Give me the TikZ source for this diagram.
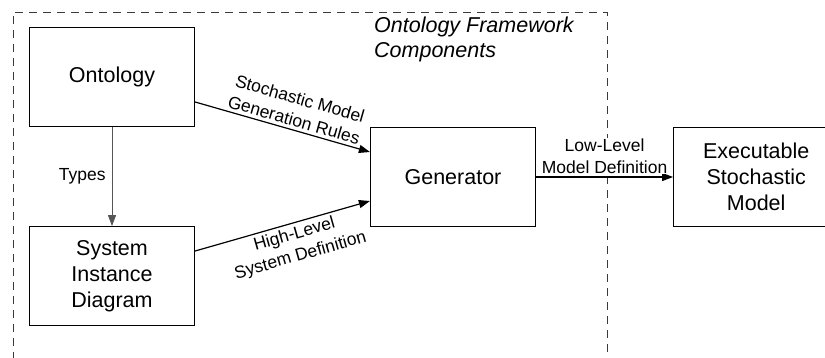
\documentclass[tikz,border=0pt]{standalone}
\usepackage{fontspec}
\setmainfont{Liberation Sans}
\usepackage{tikz}
\usetikzlibrary{positioning, arrows.meta}
\pgfdeclarelayer{background}
\pgfsetlayers{background,main}
\definecolor{framegray}{HTML}{3A3A3A}
\definecolor{linkgray}{HTML}{555555}
\tikzstyle{block}    = [rectangle, draw=black, line width=1.2pt, minimum width=165pt, minimum height=99pt, align=center, font=\fontsize{21.5}{26}\selectfont]
\tikzstyle{arrow}    = [line width=1.2pt, -{Triangle[length=11pt,width=8pt]}]
\tikzstyle{lbl}      = [align=center, font=\fontsize{17.5}{22}\selectfont, inner sep=3pt]
\tikzstyle{dashbox}  = [draw=framegray, line width=1pt, dash pattern=on 8pt off 6pt]

\begin{document}
\begin{tikzpicture}[x=1pt, y=-1pt]
    \useasboundingbox (0,0) rectangle (825,357);

    \node (ontology)  [block] at (112,77) {Ontology};
    \node (system)    [block, below=99pt of ontology] {System\\Instance\\Diagram};
    \node (generator) [block] at (453,177) {Generator};
    \node (exec)      [block, right=137pt of generator] {Executable\\Stochastic\\Model};

    \node (title) [anchor=north west, align=left, inner sep=0pt,
                   font=\fontsize{21.5}{25}\selectfont\itshape] at (374,17)
        {Ontology Framework\\Components};

    \draw [arrow, draw=linkgray, line width=0.9pt] (ontology) -- node [lbl, left, inner sep=6pt] {Types} (system);
    \draw [arrow] (ontology.east |- 0,102) -- node [lbl, sloped, above, pos=0.55] {Stochastic Model\\Generation Rules} (generator.west |- 0,152);
    \draw [arrow] (system.east |- 0,251) -- node [lbl, sloped, below, pos=0.55] {High-Level\\System Definition} (generator.west |- 0,201);
    \draw [arrow] (generator) -- node [lbl, above, fill=white, inner sep=1pt, yshift=2pt] {Low-Level\\Model Definition} (exec);

    % framework boundary, open at the bottom
    \begin{pgfonlayer}{background}
      \draw [dashbox] (13,360) -- (13,12) -- (607,12) -- (607,360);
    \end{pgfonlayer}

  \end{tikzpicture}
\end{document}
